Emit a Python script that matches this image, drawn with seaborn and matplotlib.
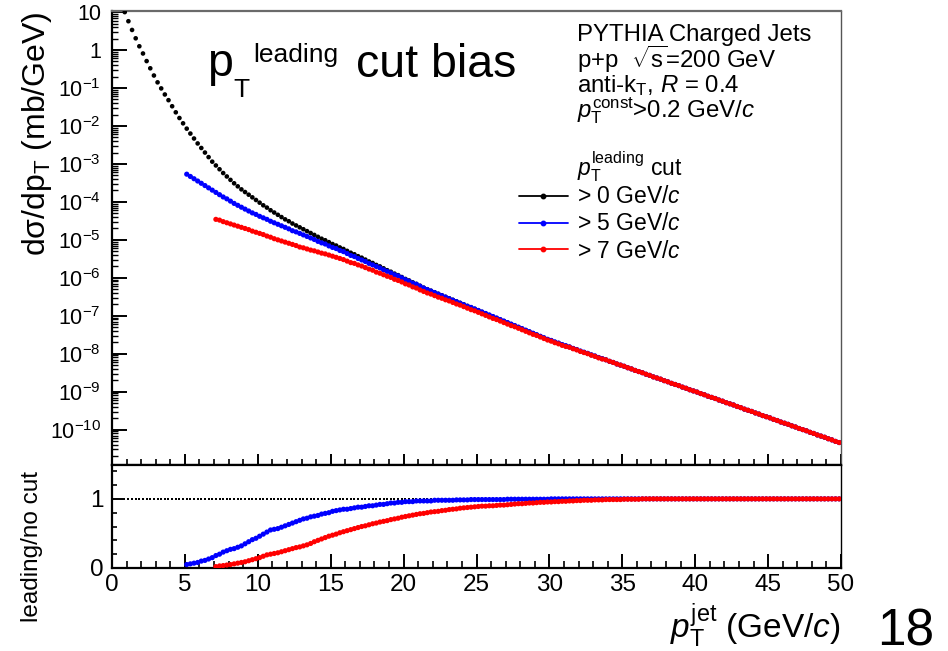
import numpy as np
import pandas as pd
import matplotlib
matplotlib.use("Agg")
import matplotlib.pyplot as plt
import seaborn as sns
from matplotlib.ticker import MultipleLocator, LogLocator, FuncFormatter, FixedLocator, NullFormatter
from matplotlib.lines import Line2D

# ---------------- data ----------------
# jet pT bin centres, 0.25 GeV/c bins from 0 to 50
pt_centers = np.arange(0.125, 50.0, 0.25)

# log10( dsigma/dpT ) for leading cut > 0 GeV/c (all bins 0.125 ... 49.875)
black_log = [
    1.80, 1.52, 1.25, 1.00, 0.76, 0.53, 0.31, 0.10, -0.09, -0.29,
    -0.48, -0.67, -0.85, -1.01, -1.17, -1.32, -1.48, -1.64, -1.79, -1.93,
    -2.07, -2.20, -2.33, -2.46, -2.58, -2.70, -2.82, -2.94, -3.04, -3.14,
    -3.24, -3.33, -3.42, -3.51, -3.59, -3.67, -3.74, -3.81, -3.88, -3.95,
    -4.02, -4.09, -4.15, -4.22, -4.28, -4.34, -4.40, -4.46, -4.51, -4.57,
    -4.62, -4.67, -4.72, -4.77, -4.82, -4.87, -4.92, -4.97, -5.01, -5.06,
    -5.11, -5.15, -5.20, -5.24, -5.29, -5.34, -5.38, -5.43, -5.47, -5.52,
    -5.57, -5.61, -5.66, -5.70, -5.75, -5.80, -5.84, -5.89, -5.93, -5.98,
    -6.03, -6.07, -6.12, -6.16, -6.21, -6.26, -6.30, -6.34, -6.38, -6.42,
    -6.46, -6.50, -6.54, -6.58, -6.62, -6.66, -6.70, -6.74, -6.78, -6.82,
    -6.86, -6.90, -6.94, -6.98, -7.02, -7.06, -7.10, -7.14, -7.18, -7.22,
    -7.26, -7.30, -7.34, -7.38, -7.42, -7.46, -7.50, -7.54, -7.58, -7.62,
    -7.65, -7.69, -7.72, -7.76, -7.79, -7.82, -7.86, -7.89, -7.93, -7.96,
    -7.99, -8.03, -8.06, -8.10, -8.13, -8.16, -8.20, -8.23, -8.27, -8.30,
    -8.33, -8.37, -8.40, -8.44, -8.47, -8.50, -8.54, -8.57, -8.61, -8.64,
    -8.67, -8.71, -8.74, -8.78, -8.81, -8.84, -8.88, -8.91, -8.95, -8.98,
    -9.01, -9.05, -9.08, -9.12, -9.15, -9.18, -9.22, -9.25, -9.29, -9.32,
    -9.35, -9.39, -9.42, -9.46, -9.49, -9.52, -9.56, -9.59, -9.63, -9.66,
    -9.69, -9.73, -9.76, -9.80, -9.83, -9.86, -9.90, -9.93, -9.97, -10.00,
    -10.03, -10.07, -10.10, -10.14, -10.17, -10.20, -10.24, -10.27, -10.31, -10.34,
]

# log10( dsigma/dpT ) for leading cut > 5 GeV/c (bins 5.125 ... 49.875)
blue_log = [
    -3.27, -3.33, -3.39, -3.45, -3.51, -3.57, -3.63, -3.69, -3.75, -3.81,
    -3.87, -3.92, -3.98, -4.04, -4.09, -4.14, -4.19, -4.24, -4.29, -4.33,
    -4.38, -4.42, -4.46, -4.51, -4.55, -4.59, -4.63, -4.67, -4.71, -4.76,
    -4.79, -4.83, -4.87, -4.91, -4.95, -4.99, -5.04, -5.08, -5.11, -5.16,
    -5.20, -5.23, -5.28, -5.31, -5.36, -5.41, -5.44, -5.49, -5.53, -5.57,
    -5.62, -5.66, -5.70, -5.74, -5.79, -5.83, -5.87, -5.92, -5.95, -6.00,
    -6.05, -6.09, -6.14, -6.17, -6.22, -6.27, -6.31, -6.35, -6.39, -6.43,
    -6.47, -6.51, -6.55, -6.59, -6.63, -6.67, -6.71, -6.75, -6.78, -6.82,
    -6.86, -6.90, -6.94, -6.98, -7.02, -7.06, -7.10, -7.14, -7.18, -7.22,
    -7.26, -7.30, -7.34, -7.38, -7.42, -7.46, -7.50, -7.54, -7.58, -7.62,
    -7.65, -7.69, -7.72, -7.76, -7.79, -7.82, -7.86, -7.89, -7.93, -7.96,
    -7.99, -8.03, -8.06, -8.10, -8.13, -8.16, -8.20, -8.23, -8.27, -8.30,
    -8.33, -8.37, -8.40, -8.44, -8.47, -8.50, -8.54, -8.57, -8.61, -8.64,
    -8.67, -8.71, -8.74, -8.78, -8.81, -8.84, -8.88, -8.91, -8.95, -8.98,
    -9.01, -9.05, -9.08, -9.12, -9.15, -9.18, -9.22, -9.25, -9.29, -9.32,
    -9.35, -9.39, -9.42, -9.46, -9.49, -9.52, -9.56, -9.59, -9.63, -9.66,
    -9.69, -9.73, -9.76, -9.80, -9.83, -9.86, -9.90, -9.93, -9.97, -10.00,
    -10.03, -10.07, -10.10, -10.14, -10.17, -10.20, -10.24, -10.27, -10.31, -10.34,
]

# log10( dsigma/dpT ) for leading cut > 7 GeV/c (bins 7.125 ... 49.875)
red_log = [
    -4.46, -4.48, -4.52, -4.55, -4.58, -4.61, -4.64, -4.67, -4.70, -4.73,
    -4.77, -4.80, -4.83, -4.86, -4.90, -4.93, -4.97, -5.00, -5.03, -5.06,
    -5.09, -5.12, -5.15, -5.19, -5.21, -5.24, -5.27, -5.29, -5.32, -5.35,
    -5.37, -5.40, -5.43, -5.46, -5.49, -5.52, -5.56, -5.60, -5.62, -5.66,
    -5.69, -5.73, -5.77, -5.80, -5.85, -5.88, -5.92, -5.96, -5.99, -6.04,
    -6.07, -6.11, -6.16, -6.19, -6.24, -6.27, -6.32, -6.36, -6.40, -6.43,
    -6.47, -6.51, -6.54, -6.58, -6.61, -6.65, -6.69, -6.72, -6.76, -6.80,
    -6.84, -6.87, -6.91, -6.95, -6.99, -7.03, -7.07, -7.10, -7.14, -7.18,
    -7.22, -7.26, -7.29, -7.33, -7.37, -7.41, -7.45, -7.49, -7.52, -7.56,
    -7.60, -7.64, -7.67, -7.71, -7.74, -7.78, -7.81, -7.83, -7.87, -7.90,
    -7.94, -7.97, -8.00, -8.04, -8.07, -8.11, -8.14, -8.16, -8.20, -8.23,
    -8.27, -8.30,
    -8.33, -8.37, -8.40, -8.44, -8.47, -8.50, -8.54, -8.57, -8.61, -8.64,
    -8.67, -8.71, -8.74, -8.78, -8.81, -8.84, -8.88, -8.91, -8.95, -8.98,
    -9.01, -9.05, -9.08, -9.12, -9.15, -9.18, -9.22, -9.25, -9.29, -9.32,
    -9.35, -9.39, -9.42, -9.46, -9.49, -9.52, -9.56, -9.59, -9.63, -9.66,
    -9.69, -9.73, -9.76, -9.80, -9.83, -9.86, -9.90, -9.93, -9.97, -10.00,
    -10.03, -10.07, -10.10, -10.14, -10.17, -10.20, -10.24, -10.27, -10.31, -10.34,
]

# ratio leading / no cut
ratio_black = [
    1.0, 1.0, 1.0, 1.0, 1.0, 1.0, 1.0, 1.0, 1.0, 1.0, 1.0, 1.0, 1.0, 1.0, 1.0, 1.0, 1.0, 1.0, 1.0, 1.0,
    1.0, 1.0, 1.0, 1.0, 1.0, 1.0, 1.0, 1.0, 1.0, 1.0, 1.0, 1.0, 1.0, 1.0, 1.0, 1.0, 1.0, 1.0, 1.0, 1.0,
    1.0, 1.0, 1.0, 1.0, 1.0, 1.0, 1.0, 1.0, 1.0, 1.0, 1.0, 1.0, 1.0, 1.0, 1.0, 1.0, 1.0, 1.0, 1.0, 1.0,
    1.0, 1.0, 1.0, 1.0, 1.0, 1.0, 1.0, 1.0, 1.0, 1.0, 1.0, 1.0, 1.0, 1.0, 1.0, 1.0, 1.0, 1.0, 1.0, 1.0,
    1.0, 1.0, 1.0, 1.0, 1.0, 1.0, 1.0, 1.0, 1.0, 1.0, 1.0, 1.0, 1.0, 1.0, 1.0, 1.0, 1.0, 1.0, 1.0, 1.0,
    1.0, 1.0, 1.0, 1.0, 1.0, 1.0, 1.0, 1.0, 1.0, 1.0, 1.0, 1.0, 1.0, 1.0, 1.0, 1.0, 1.0, 1.0, 1.0, 1.0,
    1.0, 1.0, 1.0, 1.0, 1.0, 1.0, 1.0, 1.0, 1.0, 1.0, 1.0, 1.0, 1.0, 1.0, 1.0, 1.0, 1.0, 1.0, 1.0, 1.0,
    1.0, 1.0, 1.0, 1.0, 1.0, 1.0, 1.0, 1.0, 1.0, 1.0, 1.0, 1.0, 1.0, 1.0, 1.0, 1.0, 1.0, 1.0, 1.0, 1.0,
    1.0, 1.0, 1.0, 1.0, 1.0, 1.0, 1.0, 1.0, 1.0, 1.0, 1.0, 1.0, 1.0, 1.0, 1.0, 1.0, 1.0, 1.0, 1.0, 1.0,
    1.0, 1.0, 1.0, 1.0, 1.0, 1.0, 1.0, 1.0, 1.0, 1.0, 1.0, 1.0, 1.0, 1.0, 1.0, 1.0,
]
ratio_blue = [
    0.05, 0.06, 0.07, 0.08, 0.10, 0.11, 0.13, 0.15, 0.18, 0.20,
    0.23, 0.25, 0.27, 0.28, 0.30, 0.32, 0.35, 0.38, 0.41, 0.43,
    0.46, 0.49, 0.52, 0.55, 0.56, 0.57, 0.59, 0.61, 0.63, 0.65,
    0.67, 0.69, 0.71, 0.72, 0.74, 0.75, 0.76, 0.78, 0.79, 0.80,
    0.82, 0.83, 0.84, 0.85, 0.85, 0.86, 0.87, 0.88, 0.88, 0.89,
    0.90, 0.90, 0.91, 0.92, 0.92, 0.93, 0.94, 0.94, 0.95, 0.95,
    0.96, 0.96, 0.96, 0.97, 0.97, 0.97, 0.97, 0.97, 0.98, 0.98,
    0.98, 0.98, 0.98, 0.98, 0.985, 0.985, 0.985, 0.985, 0.99, 0.99,
    0.99, 0.99, 0.99, 0.99, 0.99, 0.99, 0.99, 0.99, 0.995, 0.995,
    0.995, 0.995, 0.995, 0.995, 0.995, 0.995, 0.995, 0.995, 0.995, 0.995,
    1.0, 1.0, 1.0, 1.0, 1.0, 1.0, 1.0, 1.0, 1.0, 1.0, 1.0, 1.0, 1.0, 1.0, 1.0, 1.0, 1.0, 1.0, 1.0, 1.0,
    1.0, 1.0, 1.0, 1.0, 1.0, 1.0, 1.0, 1.0, 1.0, 1.0, 1.0, 1.0, 1.0, 1.0, 1.0, 1.0, 1.0, 1.0, 1.0, 1.0,
    1.0, 1.0, 1.0, 1.0, 1.0, 1.0, 1.0, 1.0, 1.0, 1.0, 1.0, 1.0, 1.0, 1.0, 1.0, 1.0, 1.0, 1.0, 1.0, 1.0,
    1.0, 1.0, 1.0, 1.0, 1.0, 1.0, 1.0, 1.0, 1.0, 1.0, 1.0, 1.0, 1.0, 1.0, 1.0, 1.0, 1.0, 1.0, 1.0, 1.0,
]
ratio_red = [
    0.02, 0.03, 0.035, 0.043, 0.05, 0.06, 0.07, 0.08, 0.09, 0.105,
    0.12, 0.135, 0.15, 0.17, 0.19, 0.20, 0.21, 0.22, 0.235, 0.25,
    0.265, 0.28, 0.295, 0.305, 0.32, 0.335, 0.355, 0.38, 0.40, 0.42,
    0.44, 0.46, 0.475, 0.49, 0.51, 0.525, 0.54, 0.555, 0.57, 0.585,
    0.60, 0.61, 0.625, 0.64, 0.65, 0.665, 0.675, 0.685, 0.70, 0.71,
    0.72, 0.735, 0.745, 0.755, 0.765, 0.775, 0.785, 0.79, 0.80, 0.81,
    0.815, 0.82, 0.83, 0.835, 0.845, 0.85, 0.855, 0.865, 0.87, 0.875,
    0.88, 0.885, 0.89, 0.895, 0.895, 0.90, 0.90, 0.905, 0.91, 0.91,
    0.915, 0.92, 0.925, 0.93, 0.93, 0.935, 0.94, 0.94, 0.945, 0.95,
    0.95, 0.955, 0.955, 0.96, 0.96, 0.965, 0.965, 0.97, 0.97, 0.975,
    0.975, 0.98, 0.98, 0.98, 0.985, 0.985, 0.985, 0.99, 0.99, 0.99,
    0.99, 0.99, 0.995, 0.995, 0.995, 0.995, 0.995, 1.0, 1.0, 1.0,
    1.0, 1.0, 1.0, 1.0, 1.0, 1.0, 1.0, 1.0, 1.0, 1.0, 1.0, 1.0, 1.0, 1.0, 1.0, 1.0, 1.0, 1.0, 1.0, 1.0,
    1.0, 1.0, 1.0, 1.0, 1.0, 1.0, 1.0, 1.0, 1.0, 1.0, 1.0, 1.0, 1.0, 1.0, 1.0, 1.0, 1.0, 1.0, 1.0, 1.0,
    1.0, 1.0, 1.0, 1.0, 1.0, 1.0, 1.0, 1.0, 1.0, 1.0, 1.0, 1.0,
]

series_names = ["> 0 GeV/$c$", "> 5 GeV/$c$", "> 7 GeV/$c$"]
series_colors = ["#000000", "#0000ff", "#ff0000"]

# ---------------- style ----------------
sns.set_theme(style="ticks")
plt.rcParams["font.family"] = ["Liberation Sans", "DejaVu Sans"]
plt.rcParams["mathtext.fontset"] = "custom"
plt.rcParams["mathtext.rm"] = "Liberation Sans"
plt.rcParams["mathtext.it"] = "Liberation Sans:italic"
plt.rcParams["mathtext.bf"] = "Liberation Sans:bold"
plt.rcParams["mathtext.sf"] = "Liberation Sans"
plt.rcParams["text.color"] = "black"
plt.rcParams["xtick.color"] = "black"
plt.rcParams["ytick.color"] = "black"


def tail_x(arr):
    return pt_centers[len(pt_centers) - len(arr):]


spec_df = pd.concat([
    pd.DataFrame({"pt": tail_x(a), "val": np.power(10.0, np.array(a)), "cut": n})
    for a, n in zip([black_log, blue_log, red_log], series_names)
], ignore_index=True)
ratio_cut_df = pd.concat([
    pd.DataFrame({"pt": tail_x(a), "val": np.array(a), "cut": n})
    for a, n in zip([ratio_blue, ratio_red], series_names[1:])
], ignore_index=True)
ratio_ref_df = pd.DataFrame({"pt": tail_x(ratio_black), "val": np.array(ratio_black)})

W, H = 948, 651
fig = plt.figure(figsize=(W / 100, H / 100), dpi=100)


def fx(px):
    return px / W


def fy(py):
    return 1 - py / H


ax1 = fig.add_axes([fx(112), fy(465), (841 - 112) / W, (465 - 11) / H])
ax2 = fig.add_axes([fx(112), fy(568), (841 - 112) / W, (568 - 465) / H])

palette = dict(zip(series_names, series_colors))
sizes = {series_names[0]: 11, series_names[1]: 14, series_names[2]: 14}

# top panel: spectra
sns.scatterplot(data=spec_df, x="pt", y="val", hue="cut", palette=palette,
                size="cut", sizes=sizes, linewidth=0, legend=False, ax=ax1, zorder=3)
ax1.set_yscale("log")
ax1.set_xlim(0, 50)
ax1.set_ylim(1.17e-11, 10.7)
ax1.set_xlabel("")
ax1.set_ylabel("")


def log_fmt(v, pos):
    e = int(round(np.log10(v)))
    if e == 0:
        return "1"
    if e == 1:
        return "10"
    return r"$\mathregular{10^{%d}}$" % e


ax1.yaxis.set_major_locator(LogLocator(base=10, numticks=40))
ax1.yaxis.set_minor_locator(LogLocator(base=10, subs=np.arange(2, 10), numticks=400))
ax1.yaxis.set_major_formatter(FuncFormatter(log_fmt))
ax1.yaxis.set_minor_formatter(NullFormatter())
ax1.xaxis.set_major_locator(MultipleLocator(5))
ax1.xaxis.set_minor_locator(MultipleLocator(1))
ax1.tick_params(axis="x", which="major", direction="in", length=8, width=1.4,
                labelbottom=False, top=False, bottom=True)
ax1.tick_params(axis="x", which="minor", direction="in", length=4.3, width=1.2, top=False)
ax1.tick_params(axis="y", which="major", direction="in", length=11, width=1.4,
                labelsize=15.5, pad=8, right=False)
ax1.tick_params(axis="y", which="minor", direction="in", length=4.5, width=1.0, right=False)

for side in ["left", "bottom"]:
    ax1.spines[side].set_color("black")
    ax1.spines[side].set_linewidth(1.6)
ax1.spines["top"].set_color("#6a6a6a")
ax1.spines["top"].set_linewidth(1.6)
ax1.spines["right"].set_color("#555555")
ax1.spines["right"].set_linewidth(1.0)

# bottom panel: ratios
sns.scatterplot(data=ratio_ref_df, x="pt", y="val", color="black", marker="s",
                s=4.5, linewidth=0, ax=ax2, zorder=2)
sns.scatterplot(data=ratio_cut_df, x="pt", y="val", hue="cut", palette=palette,
                s=14, linewidth=0, legend=False, ax=ax2, zorder=3)
ax2.set_xlim(0, 50)
ax2.set_ylim(0, 1.49)
ax2.set_xlabel("")
ax2.set_ylabel("")
ax2.xaxis.set_major_locator(MultipleLocator(5))
ax2.xaxis.set_minor_locator(MultipleLocator(1))
ax2.yaxis.set_major_locator(FixedLocator([0, 1]))
ax2.yaxis.set_minor_locator(MultipleLocator(0.2))
ax2.yaxis.set_major_formatter(FuncFormatter(lambda v, p: "%g" % v))
ax2.tick_params(axis="x", which="major", direction="in", length=10, width=1.4,
                labelsize=17.5, pad=4, top=False)
ax2.tick_params(axis="x", which="minor", direction="in", length=5, width=1.2, top=False)
ax2.tick_params(axis="y", which="major", direction="in", length=9, width=1.4,
                labelsize=17.5, pad=6, right=False)
ax2.tick_params(axis="y", which="minor", direction="in", length=3.8, width=1.2, right=False)
for side in ["left", "bottom", "top"]:
    ax2.spines[side].set_color("black")
    ax2.spines[side].set_linewidth(1.6)
ax2.spines["right"].set_color("black")
ax2.spines["right"].set_linewidth(1.0)

# ---------------- texts ----------------
fig.text(fx(207), fy(76), "p", fontsize=33.5, ha="left", va="baseline")
fig.text(fx(233), fy(97), "T", fontsize=19, ha="left", va="baseline")
fig.text(fx(253), fy(62), "leading", fontsize=19, ha="left", va="baseline")
fig.text(fx(356), fy(77), "cut bias", fontsize=33.5, ha="left", va="baseline")

ta = dict(fontsize=17.3, ha="left", va="baseline")
fig.text(fx(577), fy(41.5), "PYTHIA Charged Jets", **ta)
fig.text(fx(577), fy(68), r"p+p  $\sqrt{\mathrm{s}}$=200 GeV", **ta)
fig.text(fx(577), fy(91.7), r"anti-k$_{\mathrm{T}}$, $R$ = 0.4", **ta)
fig.text(fx(577), fy(118), r"$p_{\mathrm{T}}^{\mathrm{const}}$>0.2 GeV/$c$", **ta)

tk = dict(fontsize=16.5, ha="left", va="baseline")
fig.text(fx(577), fy(175), r"$p_{\mathrm{T}}^{\mathrm{leading}}$ cut", **tk)

leg_y = [196, 222.7, 249.3]
leg_base = [203, 230, 258]
for name, col, yl, yb in zip(series_names, series_colors, leg_y, leg_base):
    fig.add_artist(Line2D([fx(519), fx(568)], [fy(yl), fy(yl)], color=col, lw=1.3,
                          transform=fig.transFigure))
    fig.add_artist(Line2D([fx(543)], [fy(yl)], color=col, marker="o", ms=3.2, lw=0,
                          transform=fig.transFigure))
    fig.text(fx(577), fy(yb), name, **tk)

fig.text(fx(37.5), fy(133.5), r"dσ/dp$_{\mathrm{T}}$ (mb/GeV)", rotation=90,
         ha="center", va="center", fontsize=23)
fig.text(fx(32.5), fy(546), "leading/no cut", rotation=90,
         ha="center", va="center", fontsize=17.5)
fig.text(fx(841), fy(638), r"$p_{\mathrm{T}}^{\mathrm{jet}}$ (GeV/$c$)",
         ha="right", va="baseline", fontsize=24)
fig.text(fx(934), fy(646), "18", ha="right", va="baseline", fontsize=37)

fig.savefig("out.png", dpi=100)
